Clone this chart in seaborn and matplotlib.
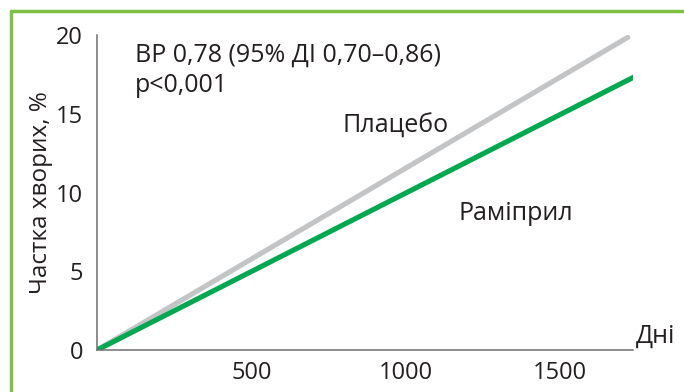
import numpy as np
import pandas as pd
import seaborn as sns
import matplotlib.pyplot as plt
from matplotlib.lines import Line2D

# data
days_placebo = [0, 1720]
rate_placebo = [0, 19.85]
days_ramipril = [0, 1742]
rate_ramipril = [0, 17.35]

x_ticks = [500, 1000, 1500]
y_ticks = [0, 5, 10, 15, 20]

df = pd.concat([
    pd.DataFrame({"days": days_placebo, "rate": rate_placebo, "group": "Плацебо"}),
    pd.DataFrame({"days": days_ramipril, "rate": rate_ramipril, "group": "Раміприл"}),
])

sns.set_style("white")
plt.rcParams['font.family'] = ['Open Sans', 'DejaVu Sans']

fig = plt.figure(figsize=(6.84, 3.92), dpi=100)
ax = fig.add_axes([0.1418, 0.1071, 0.7836, 0.8036])

sns.lineplot(data=df, x="days", y="rate", hue="group",
             palette={"Плацебо": "#c3c4c6", "Раміприл": "#00a94f"},
             linewidth=3.7, legend=False, ax=ax,
             solid_capstyle="round")

ax.set_xlim(0, 1737)
ax.set_ylim(0, 20)
ax.set_xticks(x_ticks)
ax.set_yticks(y_ticks)

sns.despine(ax=ax)
for s in ["left", "bottom"]:
    ax.spines[s].set_color("#6d6e71")
    ax.spines[s].set_linewidth(1.1)

ax.tick_params(direction="in", length=8, width=1.1, color="#6d6e71",
               labelsize=17, labelcolor="#231f20")
ax.tick_params(axis="y", pad=10)
ax.tick_params(axis="x", pad=8)

ax.set_xlabel("")
ax.set_ylabel("Частка хворих, %", fontsize=17.5, color="#231f20", labelpad=2)

txt = dict(fontsize=18, color="#231f20", clip_on=False)
ax.text(123, 18.3, "ВР 0,78 (95% ДІ 0,70–0,86)", **txt)
ax.text(123, 16.4, "p<0,001", **txt)
ax.text(797, 13.8, "Плацебо", **txt)
ax.text(1170, 8.25, "Раміприл", **txt)
ax.text(1747, 0.44, "Дні", **txt)

# green frame (left and top edges)
fig.add_artist(Line2D([11 / 684, 11 / 684], [0, 1 - 11 / 392], color="#7dc242", lw=2.5))
fig.add_artist(Line2D([11 / 684, 1], [1 - 11 / 392, 1 - 11 / 392], color="#7dc242", lw=2.5))

fig.savefig("out.png", dpi=100)
